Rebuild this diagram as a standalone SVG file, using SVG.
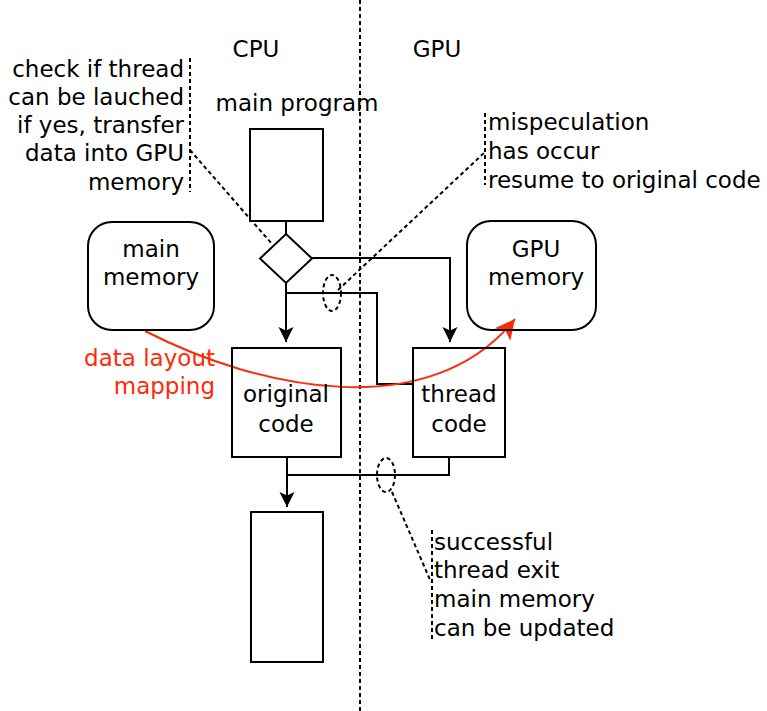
<svg xmlns="http://www.w3.org/2000/svg" width="767" height="711" viewBox="0 0 767 711">
  <style>
    text { font-family: "DejaVu Sans", "Liberation Sans", sans-serif; font-size: 23px; fill: #000; }
    .mid { text-anchor: middle; }
    .end { text-anchor: end; }
    .red { fill: #ff2a0a; }
    .box { fill: #fff; stroke: #000; stroke-width: 2; }
    .line { fill: none; stroke: #000; stroke-width: 2; }
    .dash { fill: none; stroke: #000; stroke-width: 2; stroke-dasharray: 4 3; }
  </style>
  <defs>
    <marker id="arrow" markerWidth="18" markerHeight="18" refX="15" refY="9" orient="auto" markerUnits="userSpaceOnUse">
      <path d="M0,1.5 L15,9 L0,16.5 L3.5,9 Z" fill="#000"/>
    </marker>
    <marker id="arrowRed" markerWidth="24" markerHeight="24" refX="20" refY="12" orient="auto" markerUnits="userSpaceOnUse">
      <path d="M0,2 L20,12 L0,22 L5,12 Z" fill="#ff2a0a"/>
    </marker>
  </defs>
  <rect width="767" height="711" fill="#fff"/>

  <!-- CPU / GPU divider -->
  <line class="dash" x1="360" y1="0" x2="360" y2="711"/>
  <text class="mid" x="256" y="57">CPU</text>
  <text class="mid" x="437" y="57">GPU</text>

  <!-- connectors -->
  <g id="connectors">
    <line class="line" x1="286" y1="221" x2="286" y2="234"/>
    <polyline class="line" points="312,258 450,258 450,342" marker-end="url(#arrow)"/>
    <line class="line" x1="286" y1="283" x2="286" y2="342" marker-end="url(#arrow)"/>
    <polyline class="line" points="286,293 377,293 377,384 413,384"/>
    <polyline class="line" points="287,457 287,507" marker-end="url(#arrow)"/>
    <polyline class="line" points="287,475 449,475 449,457"/>
    <path d="M145,331 C260,390 430,425 515,319" fill="none" stroke="#ff2a0a" stroke-width="2" marker-end="url(#arrowRed)"/>
  </g>

  <!-- annotation: launch check -->
  <g id="note-launch">
    <text class="end" x="184" y="77">check if thread</text>
    <text class="end" x="184" y="105">can be lauched</text>
    <text class="end" x="184" y="133">if yes, transfer</text>
    <text class="end" x="184" y="161">data into GPU</text>
    <text class="end" x="184" y="190">memory</text>
    <line class="dash" x1="190" y1="58" x2="190" y2="192"/>
    <line class="dash" x1="190" y1="150" x2="272" y2="244"/>
  </g>

  <!-- annotation: mispeculation -->
  <g id="note-mispec">
    <ellipse class="dash" cx="332" cy="293" rx="9" ry="18"/>
    <line class="dash" x1="338" y1="290" x2="485" y2="152"/>
    <line class="dash" x1="485" y1="113" x2="485" y2="185"/>
    <text x="488" y="130">mispeculation</text>
    <text x="488" y="159">has occur</text>
    <text x="488" y="188">resume to original code</text>
  </g>

  <!-- annotation: successful exit -->
  <g id="note-exit">
    <ellipse class="dash" cx="386" cy="475" rx="9" ry="17"/>
    <line class="dash" x1="392" y1="492" x2="431" y2="582"/>
    <line class="dash" x1="432" y1="530" x2="432" y2="642"/>
    <text x="434" y="550">successful</text>
    <text x="434" y="578">thread exit</text>
    <text x="434" y="607">main memory</text>
    <text x="434" y="636">can be updated</text>
  </g>

  <g id="main-program">
    <text class="mid" x="297" y="111">main program</text>
    <rect class="box" x="250" y="129" width="73" height="92"/>
  </g>

  <g id="decision">
    <polygon class="box" points="286,234 312,258.5 286,283 260,258.5"/>
  </g>

  <g id="main-memory">
    <rect class="box" x="88" y="222" width="126" height="108" rx="24"/>
    <text class="mid" x="151" y="257">main</text>
    <text class="mid" x="151" y="285">memory</text>
  </g>

  <g id="gpu-memory">
    <rect class="box" x="467" y="221" width="129" height="109" rx="24" style="fill:none"/>
    <text class="mid" x="536" y="257">GPU</text>
    <text class="mid" x="536" y="285">memory</text>
  </g>

  <g id="original-code">
    <rect class="box" x="232" y="348" width="109" height="109" style="fill:none"/>
    <text class="mid" x="286" y="402">original</text>
    <text class="mid" x="286" y="432">code</text>
  </g>

  <g id="thread-code">
    <rect class="box" x="413" y="348" width="92" height="109" style="fill:none"/>
    <text class="mid" x="459" y="402">thread</text>
    <text class="mid" x="459" y="432">code</text>
  </g>

  <g id="cpu-continue">
    <rect class="box" x="251" y="512" width="72" height="150"/>
  </g>

  <g id="mapping-label">
    <text class="end red" x="215" y="366">data layout</text>
    <text class="end red" x="215" y="394">mapping</text>
  </g>
</svg>
